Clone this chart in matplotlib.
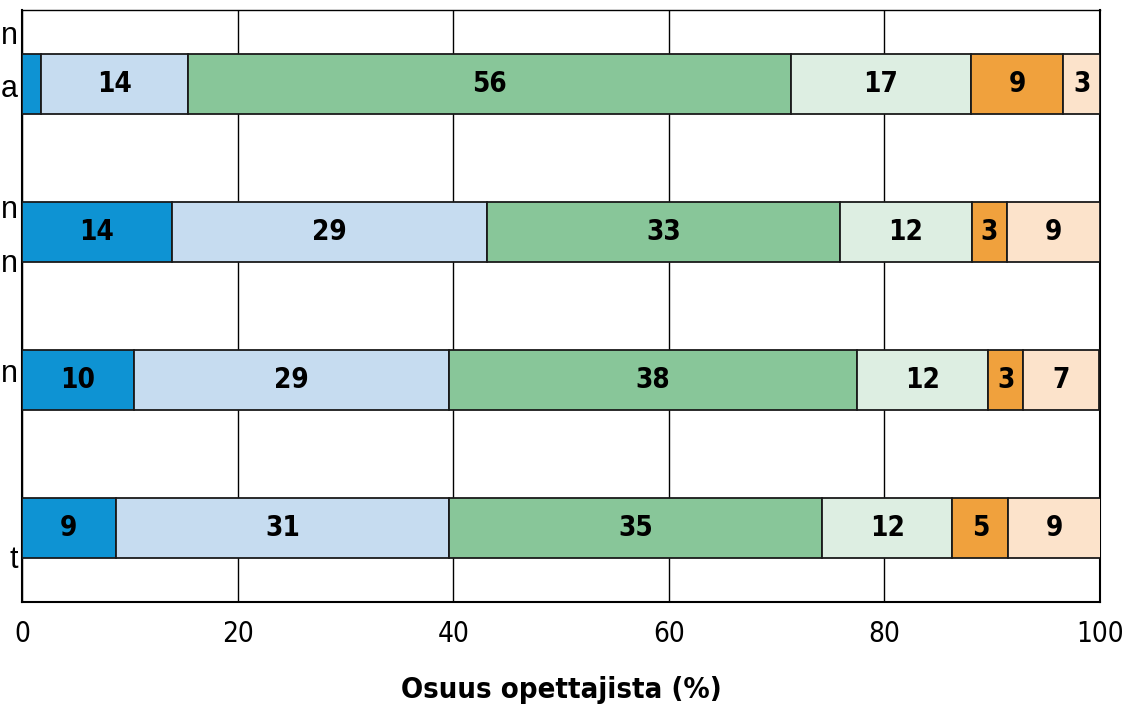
import numpy as np
import matplotlib
matplotlib.use('Agg')
import matplotlib.pyplot as plt
from matplotlib import transforms

# data (row order top to bottom)
rows = ['n\na\n ', 'n\nn', 'n', ' \nt']
seg1 = [1.8, 13.9, 10.4, 8.7]
seg2 = [13.6, 29.2, 29.2, 30.9]
seg3 = [55.9, 32.8, 37.9, 34.6]
seg4 = [16.7, 12.2, 12.1, 12.1]
seg5 = [8.6, 3.3, 3.3, 5.2]
seg6 = [3.4, 8.6, 7.0, 8.6]
colors = ['#0E93D3', '#C6DCF0', '#88C699', '#DDEEE2', '#F0A13D', '#FCE3CB']

fig = plt.figure(figsize=(11.46, 7.04), dpi=100)
ax = fig.add_axes([22 / 1146, 1 - 602 / 704, (1100 - 22) / 1146, (602 - 10) / 704])

num_font = dict(family='DejaVu Sans', stretch='condensed')

pos = np.arange(len(rows))
left = np.zeros(len(rows))
for vals, col in zip([seg1, seg2, seg3, seg4, seg5, seg6], colors):
    vals = np.array(vals)
    ax.barh(pos, vals, left=left, height=0.405, color=col,
            edgecolor='#1a1a1a', linewidth=1.3, zorder=3)
    for p, l, v in zip(pos, left, vals):
        if v >= 2.5:
            ax.text(l + v / 2, p, str(int(v + 0.5)), ha='center', va='center',
                    fontsize=20, fontweight='bold', zorder=4, **num_font)
    left += vals

ax.set_xlim(0, 100)
ax.set_ylim(3.5, -0.5)
ax.set_xticks([0, 20, 40, 60, 80, 100])
ax.grid(axis='x', color='black', linewidth=1.0, zorder=0)
ax.tick_params(axis='x', length=0, pad=13, labelsize=20)
for lab in ax.get_xticklabels():
    lab.set_family('DejaVu Sans')
    lab.set_stretch('condensed')

ax.set_yticks(pos)
ax.set_yticklabels(rows, fontsize=22, family='Liberation Sans', linespacing=2.0)
ax.tick_params(axis='y', length=0, pad=3)
# nudge the row labels up a little, like in the original
shift = transforms.ScaledTranslation(0, 10 / 100, fig.dpi_scale_trans)
for lab in ax.get_yticklabels():
    lab.set_transform(lab.get_transform() + shift)

ax.set_xlabel('Osuus opettajista (%)', fontsize=21, fontweight='bold',
              labelpad=20, **num_font)

for s in ax.spines.values():
    s.set_color('black')
    s.set_linewidth(1.5)
ax.spines['top'].set_linewidth(1.0)

fig.savefig('out.png', dpi=100)
